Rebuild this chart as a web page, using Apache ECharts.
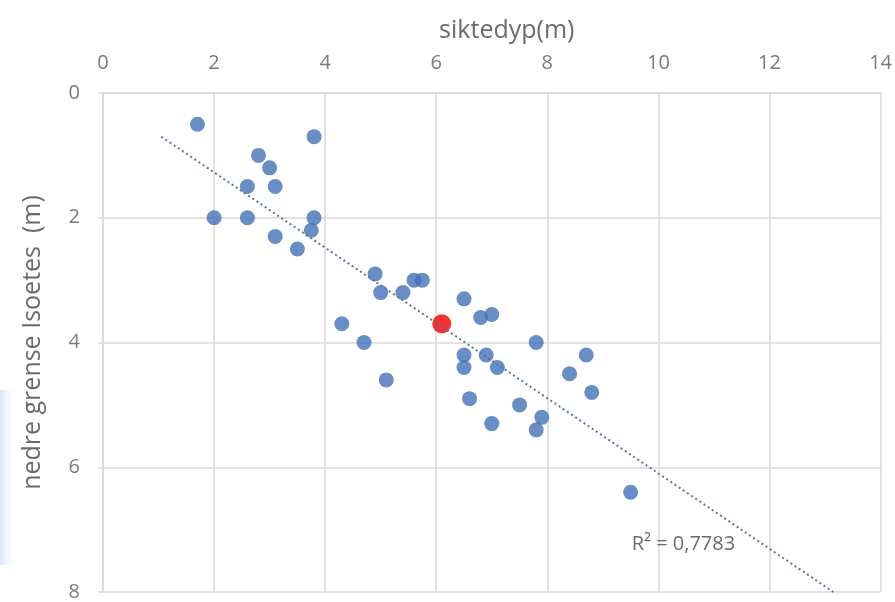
<!DOCTYPE html>
<html>
<head>
<meta charset="utf-8">
<script src="https://cdn.jsdelivr.net/npm/echarts@6/dist/echarts.min.js"></script>
<style>html,body{margin:0;padding:0;background:#fff}#c{width:895px;height:602px}</style>
</head>
<body>
<div id="c"></div>
<script>
// siktedyp (m) -> x ; nedre grense Isoetes (m) -> y
const sightDepth = [1.7, 3.8, 2.8, 3.0, 2.6, 3.1, 2.0, 2.6, 3.8, 3.75, 3.1, 3.5, 4.9, 5.6, 5.75, 5.0, 5.4, 4.3, 4.7, 5.1, 6.5, 6.8, 7.0, 7.8, 6.5, 6.9, 6.5, 7.1, 8.7, 8.4, 8.8, 6.6, 7.5, 7.9, 7.8, 7.0, 9.5];
const lowerLimit = [0.5, 0.7, 1.0, 1.2, 1.5, 1.5, 2.0, 2.0, 2.0, 2.2, 2.3, 2.5, 2.9, 3.0, 3.0, 3.2, 3.2, 3.7, 4.0, 4.6, 3.3, 3.6, 3.55, 4.0, 4.2, 4.2, 4.4, 4.4, 4.2, 4.5, 4.8, 4.9, 5.0, 5.2, 5.4, 5.3, 6.4];
const highlightX = [6.1];
const highlightY = [3.7];
const trendX = [1.05, 13.15];
const trendY = [0.70, 8.0];
const r2Text = 'R² = 0,7783';
const r2Pos = [10.45, 7.23];
const xTitle = 'siktedyp(m)';
const yTitle = 'nedre grense Isoetes  (m)';

const FONT = '"Open Sans", sans-serif';
const chart = echarts.init(document.getElementById('c'), null, {renderer: 'canvas'});
const pts = sightDepth.map((x, i) => [x, lowerLimit[i]]);
const hl = highlightX.map((x, i) => [x, highlightY[i]]);
const trend = trendX.map((x, i) => [x, trendY[i]]);

chart.setOption({
  animation: false,
  backgroundColor: '#fff',
  graphic: [{
    type: 'rect', left: 0, top: 390, z: -10, silent: true,
    shape: {width: 16, height: 175},
    style: {fill: new echarts.graphic.LinearGradient(0, 0, 1, 0, [
      {offset: 0, color: 'rgba(200,222,245,0.8)'},
      {offset: 1, color: 'rgba(255,255,255,0)'}
    ])}
  }],
  grid: {left: 103, right: 13, top: 93, bottom: 10, containLabel: false},
  xAxis: {
    type: 'value', position: 'top', min: 0, max: 14, interval: 2,
    name: xTitle, nameLocation: 'middle', nameGap: 50,
    nameTextStyle: {fontFamily: FONT, fontSize: 25, color: '#6b6b6b', padding: [0, 0, 0, 30]},
    axisLine: {show: true, lineStyle: {color: '#d9d9d9', width: 1.5}},
    axisTick: {show: false},
    axisLabel: {fontFamily: FONT, fontSize: 20, color: '#7a7a7a', margin: 20},
    splitLine: {show: true, lineStyle: {color: '#d9d9d9', width: 1.5}}
  },
  yAxis: {
    type: 'value', inverse: true, min: 0, max: 8, interval: 2,
    name: yTitle, nameLocation: 'middle', nameGap: 58, nameRotate: 90,
    nameTextStyle: {fontFamily: FONT, fontSize: 25, color: '#6b6b6b'},
    axisLine: {show: true, lineStyle: {color: '#d9d9d9', width: 1.5}},
    axisTick: {show: true, length: 5, lineStyle: {color: '#d9d9d9', width: 1.5}},
    axisLabel: {fontFamily: FONT, fontSize: 20, color: '#7a7a7a', margin: 23},
    splitLine: {show: true, lineStyle: {color: '#d9d9d9', width: 1.5}}
  },
  series: [
    {
      type: 'scatter', data: pts, symbol: 'circle', symbolSize: 15,
      itemStyle: {color: '#4372B6'}, z: 2
    },
    {
      type: 'scatter', data: hl, symbol: 'circle', symbolSize: 19,
      itemStyle: {color: '#F00000'}, z: 3
    },
    {
      type: 'line', data: trend, showSymbol: false, symbol: 'none',
      lineStyle: {color: '#5577a3', width: 2, type: [2, 3]}, z: 4,
      markPoint: {
        symbol: 'circle', symbolSize: 0,
        data: [{coord: r2Pos, value: r2Text}],
        label: {show: true, position: 'inside', formatter: r2Text, fontFamily: FONT, fontSize: 20, color: '#6b6b6b'}
      }
    }
  ]
});
</script>
</body>
</html>
